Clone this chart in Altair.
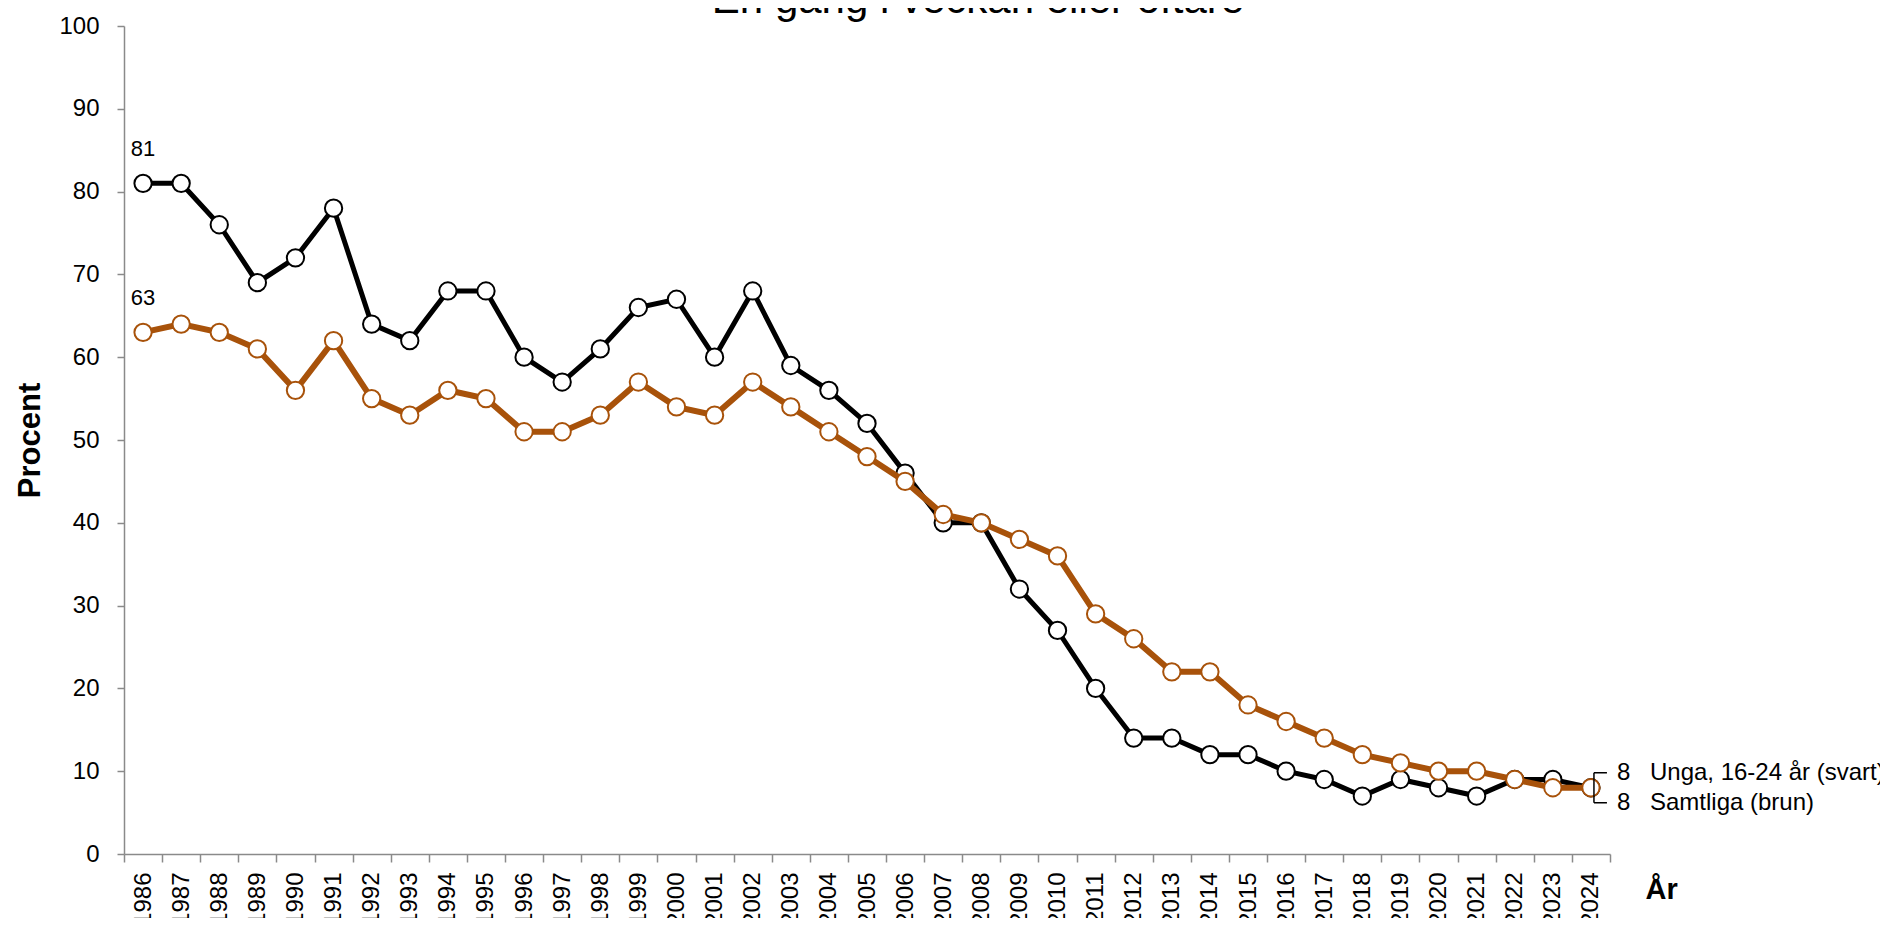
import altair as alt
import pandas as pd

years = ["1986", "1987", "1988", "1989", "1990", "1991", "1992", "1993", "1994", "1995",
         "1996", "1997", "1998", "1999", "2000", "2001", "2002", "2003", "2004", "2005",
         "2006", "2007", "2008", "2009", "2010", "2011", "2012", "2013", "2014", "2015",
         "2016", "2017", "2018", "2019", "2020", "2021", "2022", "2023", "2024"]
unga = [81, 81, 76, 69, 72, 78, 64, 62, 68, 68,
        60, 57, 61, 66, 67, 60, 68, 59, 56, 52,
        46, 40, 40, 32, 27, 20, 14, 14, 12, 12,
        10, 9, 7, 9, 8, 7, 9, 9, 8]
samtliga = [63, 64, 63, 61, 56, 62, 55, 53, 56, 55,
            51, 51, 53, 57, 54, 53, 57, 54, 51, 48,
            45, 41, 40, 38, 36, 29, 26, 22, 22, 18,
            16, 14, 12, 11, 10, 10, 9, 8, 8]
series_names = ["Unga, 16-24 år (svart)", "Samtliga (brun)"]
y_ticks = [0, 10, 20, 30, 40, 50, 60, 70, 80, 90, 100]
title_text = "En gång i veckan eller oftare"
y_title = "Procent"
x_title = "År"

BLACK = "#000000"
BROWN = "#A8520A"
GRAY = "#8a8a8a"
FONT = "Liberation Sans"

df_u = pd.DataFrame({"year": years, "value": unga, "series": series_names[0]})
df_s = pd.DataFrame({"year": years, "value": samtliga, "series": series_names[1]})

first_year = years[0]
last_year = years[-1]

x_axis = alt.Axis(
    title=x_title, titleFont=FONT, titleFontSize=29, titleFontWeight="bold", titleColor="black",
    titleX=1521, titleY=44, titleAlign="left", titleBaseline="alphabetic", titleAngle=0,
    labelAngle=270, labelFont=FONT, labelFontSize=24, labelColor="black", labelPadding=10,
    labelOverlap=False, tickSize=8, tickColor=GRAY, tickWidth=1.5, domainColor=GRAY,
    domainWidth=1.5, tickBand="extent", grid=False,
)
y_axis = alt.Axis(
    values=y_ticks, title=y_title, titleFont=FONT, titleFontSize=31, titleFontWeight="bold",
    titleColor="black", titleX=-94, titleY=414, titleAngle=270, titleAlign="center",
    titleBaseline="middle", labelFont=FONT, labelFontSize=24, labelColor="black",
    labelPadding=18, tickSize=7, tickColor=GRAY, tickWidth=1.5, domainColor=GRAY,
    domainWidth=1.5, grid=False,
)

X = alt.X("year:O", scale=alt.Scale(type="band", domain=years, paddingInner=0, paddingOuter=0),
          axis=x_axis, bandPosition=0.5)
Y = alt.Y("value:Q", scale=alt.Scale(domain=[0, 100], nice=False, zero=True), axis=y_axis)


def series_layers(df, color, width):
    line = alt.Chart(df).mark_line(color=color, strokeWidth=width).encode(x=X, y=Y)
    pts = alt.Chart(df).mark_circle(fill="white", stroke=color, strokeWidth=2, size=300,
                                    opacity=1, fillOpacity=1).encode(x=X, y=Y)
    start = alt.Chart(df).transform_filter(alt.datum.year == first_year).mark_text(
        font=FONT, fontSize=22, color="black", dy=-27, align="center", baseline="alphabetic"
    ).encode(x=X, y=Y, text=alt.Text("value:Q"))
    return [line, pts, start]


def end_labels(df, dy):
    end = alt.Chart(df).transform_filter(alt.datum.year == last_year)
    val = end.mark_text(font=FONT, fontSize=24, color="black", dx=26, dy=dy, align="left",
                        baseline="middle").encode(x=X, y=Y, text=alt.Text("value:Q"))
    name = end.mark_text(font=FONT, fontSize=24, color="black", dx=59, dy=dy, align="left",
                         baseline="middle").encode(x=X, y=Y, text=alt.Text("series:N"))
    horiz = end.mark_rule(color="black", strokeWidth=1.5, xOffset=3, x2Offset=16,
                          yOffset=dy, y2Offset=dy).encode(
        x=X, x2=alt.X2("year:O", bandPosition=0.5), y=Y, y2=alt.Y2("value:Q"))
    return [val, name, horiz]


df_end = df_u[df_u.year == last_year]
vert = alt.Chart(df_end).mark_rule(color="black", strokeWidth=1.5, xOffset=3,
                                   yOffset=-15, y2Offset=15).encode(
    x=X, y=Y, y2=alt.Y2("value:Q"))

title = alt.Chart(pd.DataFrame({"t": [title_text]})).mark_text(
    font=FONT, fontSize=42, color="black", align="center", baseline="alphabetic"
).encode(text="t:N", x=alt.value(854), y=alt.value(-13))

layers = (series_layers(df_u, BLACK, 5) + series_layers(df_s, BROWN, 6)
          + end_labels(df_u, -15) + end_labels(df_s, 15) + [vert, title])

chart = alt.layer(*layers).properties(
    width=1486, height=828,
    autosize=alt.AutoSizeParams(type="none"),
    padding={"left": 116, "top": 18, "right": 270, "bottom": 64},
).configure(font=FONT).configure_view(strokeWidth=0)

chart.save("out.html", embed_options={"renderer": "svg", "actions": False})
